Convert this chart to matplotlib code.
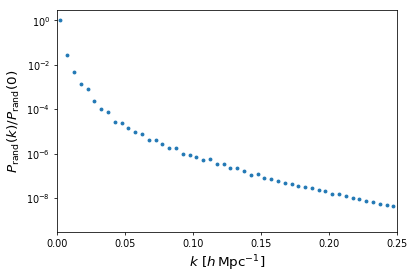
import numpy as np
import matplotlib
matplotlib.use("Agg")
import matplotlib.pyplot as plt

# k bins (h/Mpc), bin centres
k = np.arange(50) * 0.005 + 0.0025

# log10 of P_rand(k)/P_rand(0)
log_ratio = [
    0.0, -1.55, -2.31, -2.88, -3.11, -3.65, -3.97, -4.12, -4.56, -4.62,
    -4.86, -5.04, -5.12, -5.39, -5.39, -5.59, -5.77, -5.77, -6.04, -6.05,
    -6.16, -6.27, -6.25, -6.49, -6.45, -6.67, -6.66, -6.78, -6.95, -6.91,
    -7.11, -7.13, -7.23, -7.31, -7.37, -7.46, -7.49, -7.55, -7.64, -7.67,
    -7.81, -7.82, -7.93, -7.99, -8.05, -8.14, -8.17, -8.26, -8.34, -8.36,
]
ratio = 10.0 ** np.array(log_ratio)

fig = plt.figure(figsize=(6, 4), dpi=416 / 6)
ax = fig.add_axes([0.137, 0.162, 0.817, 0.799])
ax.plot(k, ratio, '.')
ax.set_yscale('log')
ax.set_xlim(0, 0.25)
ax.set_ylim(10 ** -9.54, 10 ** 0.45)
ax.set_xlabel(r'$k\ [h\,\mathrm{Mpc}^{-1}]$', fontsize=14)
ax.set_ylabel(r'$P_{\rm rand}(k)/P_{\rm rand}(0)$', fontsize=14)
fig.savefig('out.png')
